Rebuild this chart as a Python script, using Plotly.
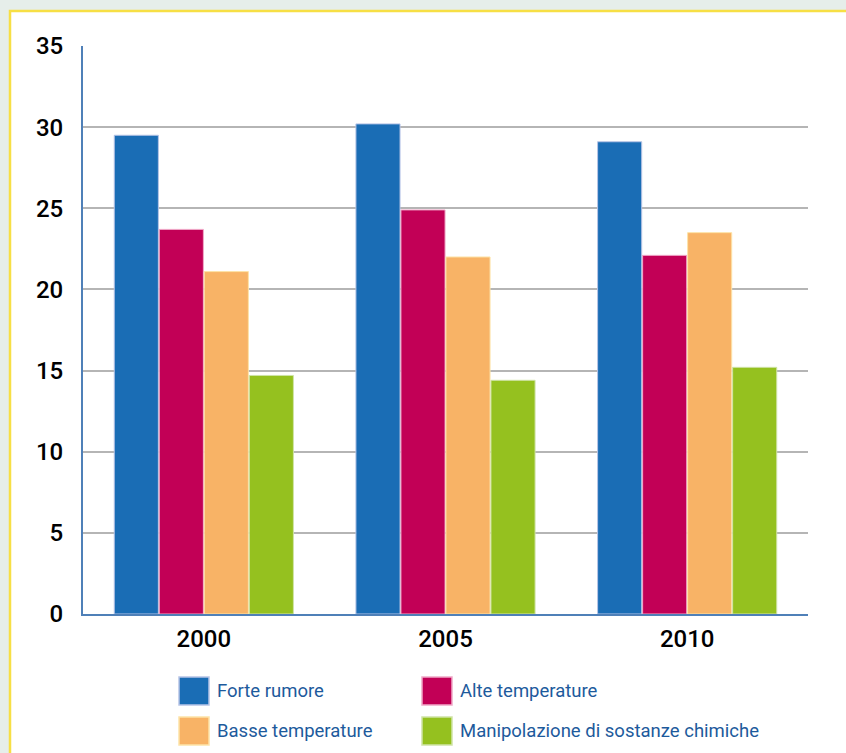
import plotly.graph_objects as go

# ---- data ----
years = ["2000", "2005", "2010"]
forte_rumore = [29.5, 30.2, 29.1]
alte_temperature = [23.7, 24.9, 22.1]
basse_temperature = [21.1, 22.0, 23.5]
manipolazione = [14.7, 14.4, 15.2]

series_names = ["Forte rumore", "Alte temperature", "Basse temperature",
                "Manipolazione di sostanze chimiche"]
series_values = [forte_rumore, alte_temperature, basse_temperature, manipolazione]
series_colors = ["#1a6db5", "#c20056", "#f8b366", "#95c11f"]
series_outline = ["#b7c4e6", "#f0a9c8", "#fde3a8", "#cfe3a6"]
y_ticks = [0, 5, 10, 15, 20, 25, 30, 35]

W, H = 846, 753
L, R, T, B = 83, 38, 46, 139
PW, PH = W - L - R, H - T - B

FONT = "Roboto, Liberation Sans, Arial, sans-serif"


def px(x):
    return (x - L) / PW


def py(y):
    return (H - B - y) / PH


fig = go.Figure()
for name, vals, col, oc in zip(series_names, series_values, series_colors, series_outline):
    fig.add_trace(go.Bar(x=years, y=vals, name=name, marker=dict(color=col, line=dict(color=oc, width=1)),
                         showlegend=False))

shapes = [
    # white panel with yellow border
    dict(type="rect", xref="paper", yref="paper", x0=px(10), x1=px(W + 10), y0=py(H + 10), y1=py(11),
         fillcolor="white", line=dict(color="#f7df45", width=2.5), layer="below"),
]
annotations = []
leg_pos = [(179, 677), (422, 677), (179, 717), (422, 717)]
for (lx, ly), name, col, oc in zip(leg_pos, series_names, series_colors, series_outline):
    shapes.append(dict(type="rect", xref="paper", yref="paper", x0=px(lx), x1=px(lx + 30),
                       y0=py(ly + 28), y1=py(ly), fillcolor=col, line=dict(color=oc, width=1.5)))
    annotations.append(dict(xref="paper", yref="paper", x=px(lx + 36), y=py(ly + 14), text=name,
                            showarrow=False, xanchor="left", yanchor="middle",
                            font=dict(family=FONT, size=18.5, color="#1d5a9c", weight=400)))

fig.update_layout(
    width=W, height=H,
    margin=dict(l=L, r=R, t=T, b=B, autoexpand=False),
    paper_bgcolor="#e6eeea",
    plot_bgcolor="rgba(0,0,0,0)",
    barmode="group", bargap=0.255, bargroupgap=0.02,
    shapes=shapes, annotations=annotations,
    showlegend=False,
    font=dict(family=FONT, size=24, color="#000000"),
)
tickfont = dict(family=FONT, size=24, color="#000000", weight=500)
fig.update_yaxes(range=[0, 35], tickvals=y_ticks, ticktext=[str(v) for v in y_ticks],
                 showgrid=True, gridcolor="#b5b5b5", gridwidth=1.5,
                 showline=True, linecolor="#4f80b8", linewidth=2, tickfont=tickfont,
                 ticks="", ticklabelstandoff=13, zeroline=False, fixedrange=True)
fig.update_xaxes(showline=True, linecolor="#4f80b8", linewidth=2, ticks="", tickfont=tickfont,
                 ticklabelstandoff=2, showgrid=False, fixedrange=True)

fig.write_html("out.html")
